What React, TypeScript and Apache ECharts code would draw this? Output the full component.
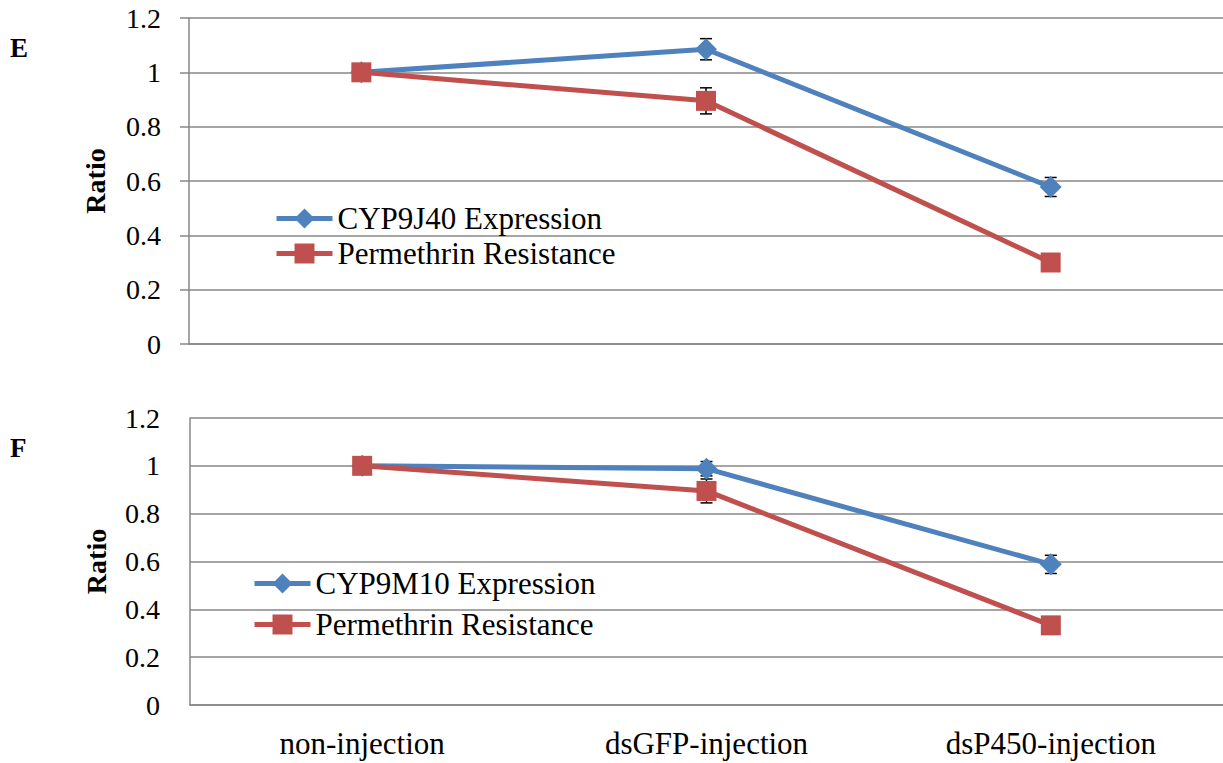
import React, { useEffect, useRef } from "react";
import * as echarts from "echarts";

const categories = ["non-injection", "dsGFP-injection", "dsP450-injection"];

const cyp9j40 = [1, 1.085, 0.578];
const cyp9j40Err = [0, 0.039, 0.035];
const permE = [1, 0.895, 0.3];
const permEErr = [0, 0.048, 0];

const cyp9m10 = [1, 0.988, 0.588];
const cyp9m10Err = [0, 0.03, 0.038];
const permF = [1, 0.895, 0.333];
const permFErr = [0, 0.05, 0];

const BLUE = "#4F81BD";
const RED = "#C0504D";
const GRID = "#878787";
const FONT = "Liberation Serif";

function errData(vals: number[], errs: number[]) {
  return vals.map((v, i) => [i, v, errs[i]]).filter((d) => d[2] > 0);
}

function errRender(params: any, api: any) {
  const x = api.value(0);
  const v = api.value(1);
  const e = api.value(2);
  const top = api.coord([x, v + e]);
  const bot = api.coord([x, v - e]);
  const hw = 6;
  const style = { stroke: "#000", lineWidth: 1.5 };
  return {
    type: "group",
    children: [
      { type: "line", shape: { x1: top[0], y1: top[1], x2: bot[0], y2: bot[1] }, style },
      { type: "line", shape: { x1: top[0] - hw, y1: top[1], x2: top[0] + hw, y2: top[1] }, style },
      { type: "line", shape: { x1: bot[0] - hw, y1: bot[1], x2: bot[0] + hw, y2: bot[1] }, style },
    ],
  };
}

export default function App() {
  const ref = useRef<HTMLDivElement>(null);
  useEffect(() => {
    if (!ref.current) return;
    const chart = echarts.init(ref.current, null, { renderer: "svg" });
    const yAxisBase = (withTicks: boolean) => ({
      type: "value",
      min: 0,
      max: 1.2,
      interval: 0.2,
      name: "Ratio",
      nameLocation: "middle",
      nameRotate: 90,
      nameGap: 80,
      nameTextStyle: { fontFamily: FONT, fontWeight: "bold", fontSize: 28, color: "#000" },
      axisLine: { show: true, lineStyle: { color: GRID, width: 1.5 } },
      axisTick: { show: withTicks, inside: false, length: 9, lineStyle: { color: GRID, width: 1.5 } },
      splitLine: { show: true, lineStyle: { color: GRID, width: 1.5 } },
      axisLabel: {
        fontFamily: FONT,
        fontSize: 28,
        color: "#000",
        margin: withTicks ? 28 : 30,
        formatter: (v: number) => String(Math.round(v * 10) / 10),
      },
    });
    const lineSeries = (name: string, data: number[], color: string, symbol: string, idx: number) => ({
      name,
      type: "line",
      xAxisIndex: idx,
      yAxisIndex: idx,
      data,
      symbol,
      symbolSize: symbol === "diamond" ? 22 : 20,
      lineStyle: { color, width: 5 },
      itemStyle: { color },
      z: 3,
    });
    const errSeries = (vals: number[], errs: number[], idx: number) => ({
      type: "custom",
      xAxisIndex: idx,
      yAxisIndex: idx,
      data: errData(vals, errs),
      renderItem: errRender,
      z: 2,
      silent: true,
    });
    const legendBase = {
      orient: "vertical",
      padding: 0,
      itemWidth: 56,
      itemHeight: 25,
      itemTextGap: 3,
      lineStyle: { width: 5 },
      textStyle: { fontFamily: FONT, fontSize: 31, lineHeight: 31, color: "#000" },
      selectedMode: false,
    };
    chart.setOption({
      animation: false,
      textStyle: { fontFamily: FONT },
      grid: [
        { left: 189, right: 0, top: 18, height: 326 },
        { left: 190, right: 0, top: 418, height: 287 },
      ],
      xAxis: [
        {
          type: "category",
          gridIndex: 0,
          data: categories,
          axisLine: { show: true, lineStyle: { color: GRID, width: 1.5 } },
          axisTick: { show: false },
          axisLabel: { show: false },
        },
        {
          type: "category",
          gridIndex: 1,
          data: categories,
          axisLine: { show: true, lineStyle: { color: GRID, width: 1.5 } },
          axisTick: { show: false },
          axisLabel: { fontFamily: FONT, fontSize: 31, color: "#000", margin: 23 },
        },
      ],
      yAxis: [
        { ...yAxisBase(true), gridIndex: 0 },
        { ...yAxisBase(false), gridIndex: 1 },
      ],
      legend: [
        {
          ...legendBase,
          data: ["CYP9J40 Expression", "Permethrin Resistance"],
          left: 274,
          top: 203,
          itemGap: 4,
        },
        {
          ...legendBase,
          data: ["CYP9M10 Expression", "Permethrin Resistance"],
          left: 252,
          top: 568,
          itemGap: 10,
        },
      ],
      graphic: [
        { type: "text", left: 10, top: 34, style: { text: "E", fontFamily: FONT, fontWeight: "bold", fontSize: 27, fill: "#000" } },
        { type: "text", left: 10, top: 434, style: { text: "F", fontFamily: FONT, fontWeight: "bold", fontSize: 27, fill: "#000" } },
      ],
      series: [
        errSeries(cyp9j40, cyp9j40Err, 0),
        errSeries(permE, permEErr, 0),
        lineSeries("CYP9J40 Expression", cyp9j40, BLUE, "diamond", 0),
        lineSeries("Permethrin Resistance", permE, RED, "rect", 0),
        errSeries(cyp9m10, cyp9m10Err, 1),
        errSeries(permF, permFErr, 1),
        lineSeries("CYP9M10 Expression", cyp9m10, BLUE, "diamond", 1),
        lineSeries("Permethrin Resistance", permF, RED, "rect", 1),
      ],
    });
    return () => chart.dispose();
  }, []);
  return (
    <div
      ref={ref}
      style={{ position: "fixed", left: 0, top: 0, width: 1223, height: 763, background: "#fff" }}
    />
  );
}
